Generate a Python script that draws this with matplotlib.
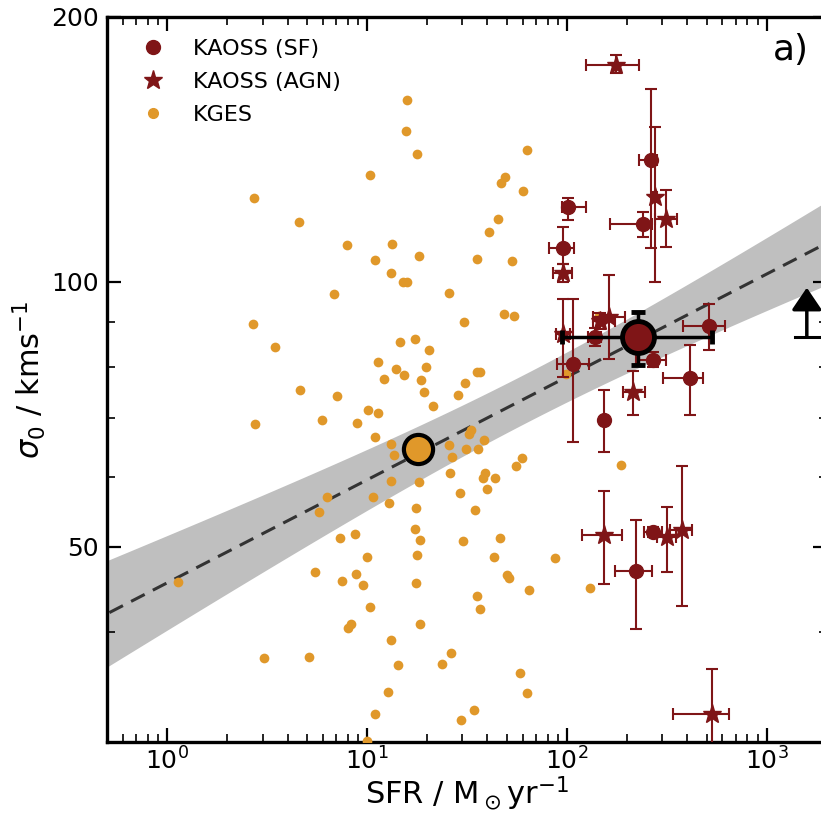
import numpy as np
import matplotlib

matplotlib.use("Agg")
import matplotlib.pyplot as plt
from matplotlib.lines import Line2D
from matplotlib.ticker import FixedLocator, FixedFormatter, NullFormatter

KGES_COLOR = "#e0982a"
KAOSS_COLOR = "#7f1517"

# KGES sample (SFR in Msun/yr, sigma_0 in km/s)
kges_sfr = [1.135, 2.72, 2.69, 2.75, 3.05, 3.47, 4.57, 4.62, 5.13, 5.50,
            5.75, 5.96, 6.31, 6.84, 7.08, 7.33, 7.50, 7.94, 8.04, 8.32,
            8.71, 8.81, 8.91, 9.55, 10.0, 10.0, 10.1, 10.35, 10.35, 10.7,
            10.96, 10.96, 10.96, 11.35, 11.35, 12.16, 12.7, 12.9, 13.2, 13.2,
            13.2, 13.2, 13.3, 13.6, 14.0, 14.3, 14.6, 15.1, 15.8, 15.3,
            15.7, 15.8, 17.4, 17.4, 17.6, 17.6, 17.8, 17.8, 18.2, 18.2,
            18.4, 18.4, 18.6, 19.3, 19.7, 20.4, 21.4, 23.7, 25.7, 25.7,
            26.0, 26.3, 26.6, 28.5, 29.2, 29.5, 30.2, 30.5, 30.9, 31.3,
            32.4, 33.1, 34.3, 34.7, 35.5, 35.5, 35.5, 35.9, 36.7, 36.7,
            38.0, 38.5, 38.9, 39.8, 40.7, 43.2, 43.7, 45.2, 46.2, 46.8,
            48.4, 49.0, 50.1, 51.3, 53.1, 54.3, 55.6, 58.2, 59.6, 60.3,
            63.1, 63.1, 64.6, 87.1, 98.9, 130.0, 144.5, 186.0]
kges_sigma = [45.6, 124.7, 89.6, 68.9, 37.4, 84.3, 117.1, 75.3, 37.5, 46.8,
              54.7, 69.6, 56.9, 96.9, 74.1, 51.2, 45.7, 110.2, 40.4, 40.9,
              51.7, 46.6, 69.1, 45.2, 48.7, 30.1, 71.5, 132.4, 42.7, 57.0,
              105.9, 66.7, 32.3, 81.1, 70.9, 77.5, 34.2, 56.1, 102.4, 65.5,
              59.4, 39.2, 110.5, 63.5, 79.6, 36.7, 85.4, 100.0, 100.0, 78.3,
              148.3, 160.9, 86.1, 52.4, 55.4, 45.5, 139.9, 49.0, 107.1, 59.2,
              50.9, 40.8, 77.3, 74.9, 80.0, 83.6, 72.2, 36.8, 97.2, 65.2,
              60.6, 37.9, 63.2, 74.3, 57.6, 31.8, 50.8, 90.0, 76.7, 64.5,
              67.1, 67.8, 32.6, 55.1, 106.2, 79.0, 44.0, 64.5, 79.0, 42.5,
              59.8, 66.2, 60.7, 58.2, 114.0, 48.7, 59.9, 118.0, 51.1, 129.7,
              91.9, 131.7, 46.5, 46.1, 105.7, 91.5, 61.7, 35.9, 63.0, 127.0,
              141.4, 34.1, 44.7, 48.6, 78.5, 44.9, 91.5, 62.0]

# KAOSS star-forming galaxies: value, lower bound, upper bound
sf_sfr = [263, 240, 101, 95.5, 138, 107, 269, 513, 412, 153, 221, 269]
sf_sfr_lo = [229, 164, 94, 81, 128, 89, 221, 380, 302, 150, 174, 243]
sf_sfr_hi = [282, 266, 124, 108, 148, 129, 313, 617, 479, 156, 266, 298]
sf_sigma = [137.4, 116.5, 121.8, 109.3, 86.6, 80.6, 81.5, 89.1, 77.7, 69.6, 46.9, 52.0]
sf_sigma_lo = [109.3, 112.5, 117.7, 104.8, 84.5, 65.7, 80.0, 83.6, 70.5, 64.1, 40.3, 51.3]
sf_sigma_hi = [165.6, 120.2, 124.7, 115.5, 88.7, 95.6, 83.2, 94.4, 84.7, 75.3, 53.7, 52.6]

# KAOSS AGN
agn_sfr = [176, 275, 313, 95.5, 162, 146, 95.5, 214, 153, 316, 376, 532]
agn_sfr_lo = [124, 268, 275, 85, 135, 135, 88, 191, 119, 282, 327, 339]
agn_sfr_hi = [229, 283, 355, 106, 195, 174, 104, 245, 188, 351, 422, 646]
agn_sigma = [176.3, 125.0, 118.0, 102.4, 91.2, 90.3, 87.3, 74.9, 51.6, 51.3, 52.3, 32.3]
agn_sigma_lo = [172.8, 100.0, 109.6, 100.0, 81.7, 88.4, 77.9, 70.5, 45.4, 46.8, 42.8, 28.0]
agn_sigma_hi = [181.0, 149.8, 127.3, 104.8, 101.8, 92.2, 95.6, 79.1, 57.8, 55.5, 61.7, 36.3]

# sample medians
kges_med_sfr, kges_med_sigma = 18.0, 64.5
kaoss_med_sfr, kaoss_med_sfr_lo, kaoss_med_sfr_hi = 226, 94.4, 532
kaoss_med_sigma, kaoss_med_sigma_lo, kaoss_med_sigma_hi = 86.6, 80.4, 92.4

# power-law fit sigma = norm * SFR**slope, with confidence band (dex)
fit_norm, fit_slope = 45.5, 0.117
band_pivot, band_min, band_growth = 1.8, 0.028, 0.0255

# arrow marker on the right edge
arrow_sfr, arrow_sfr_lo, arrow_sfr_hi = 1585, 1380, 1840
arrow_sigma_base, arrow_sigma_tip = 86.6, 98.5


def asym_err(val, lo, hi):
    val = np.asarray(val, dtype=float)
    return np.vstack([val - np.asarray(lo), np.asarray(hi) - val])


def main() -> None:
    fig = plt.figure(figsize=(8.21, 8.15), dpi=100)
    ax = fig.add_axes([107 / 821, 73 / 815, 720 / 821, 725 / 815])
    ax.set_xscale("log")
    ax.set_yscale("log")
    ax.set_xlim(0.5, 2000)
    ax.set_ylim(30, 200)

    # fit and band
    logx = np.linspace(np.log10(0.4), np.log10(3000), 200)
    xx = 10 ** logx
    yy = fit_norm * xx ** fit_slope
    hw = np.sqrt(band_min ** 2 + (band_growth * (logx - band_pivot)) ** 2)
    ax.fill_between(xx, yy * 10 ** (-hw), yy * 10 ** hw, color="#bfbfbf", lw=0, zorder=1)
    ax.plot(xx, yy, ls=(0, (5, 3)), color="#333333", lw=2.2, zorder=2)

    ax.plot(kges_sfr, kges_sigma, "o", color=KGES_COLOR, ms=7, mew=0, zorder=3)

    ekw = dict(ls="none", color=KAOSS_COLOR, ecolor=KAOSS_COLOR, elinewidth=1.5,
               capsize=4.5, capthick=1.5, zorder=4)
    ax.errorbar(sf_sfr, sf_sigma, xerr=asym_err(sf_sfr, sf_sfr_lo, sf_sfr_hi),
                yerr=asym_err(sf_sigma, sf_sigma_lo, sf_sigma_hi), marker="o", ms=10, **ekw)
    ax.errorbar(agn_sfr, agn_sigma, xerr=asym_err(agn_sfr, agn_sfr_lo, agn_sfr_hi),
                yerr=asym_err(agn_sigma, agn_sigma_lo, agn_sigma_hi), marker="*", ms=14, **ekw)

    ax.plot([kges_med_sfr], [kges_med_sigma], "o", ms=21, mfc=KGES_COLOR, mec="k", mew=3, zorder=6)
    ax.errorbar([kaoss_med_sfr], [kaoss_med_sigma],
                xerr=asym_err([kaoss_med_sfr], [kaoss_med_sfr_lo], [kaoss_med_sfr_hi]),
                yerr=asym_err([kaoss_med_sigma], [kaoss_med_sigma_lo], [kaoss_med_sigma_hi]),
                fmt="o", ms=23, mfc=KAOSS_COLOR, mec="k", mew=3.5, ecolor="k",
                elinewidth=2.5, capsize=5, capthick=5, zorder=7)

    ax.plot([arrow_sfr_lo, arrow_sfr_hi], [arrow_sigma_base, arrow_sigma_base], color="k", lw=2.2, zorder=5)
    ax.annotate("", xy=(arrow_sfr, arrow_sigma_tip), xytext=(arrow_sfr, arrow_sigma_base),
                arrowprops=dict(arrowstyle="-|>,head_width=0.42,head_length=0.62", color="k",
                                lw=2.5, mutation_scale=22, shrinkA=0, shrinkB=0), zorder=5)

    # axes styling
    for sp in ax.spines.values():
        sp.set_linewidth(2.4)
    ax.yaxis.set_major_locator(FixedLocator([50, 100, 200]))
    ax.yaxis.set_minor_locator(FixedLocator([40, 60, 70, 80, 90]))
    ax.yaxis.set_major_formatter(FixedFormatter(["50", "100", "200"]))
    ax.yaxis.set_minor_formatter(NullFormatter())
    ax.tick_params(which="both", direction="in", top=True, right=True, labelsize=18, pad=6)
    ax.tick_params(axis="x", which="both", pad=4)
    ax.tick_params(which="major", length=10, width=1.6)
    ax.tick_params(which="minor", length=6, width=1.2)

    ax.set_xlabel(r"SFR / M$_\odot$yr$^{-1}$", fontsize=22, labelpad=0)
    ax.set_ylabel(r"$\sigma_0$ / kms$^{-1}$", fontsize=22, labelpad=2)
    ax.text(0.925, 0.954, "a)", transform=ax.transAxes, fontsize=26, ha="left", va="center")

    handles = [
        Line2D([], [], ls="none", marker="o", ms=10, color=KAOSS_COLOR),
        Line2D([], [], ls="none", marker="*", ms=14, color=KAOSS_COLOR),
        Line2D([], [], ls="none", marker="o", ms=7, color=KGES_COLOR),
    ]
    ax.legend(handles, ["KAOSS (SF)", "KAOSS (AGN)", "KGES"], loc="upper left",
              bbox_to_anchor=(0.005, 0.997), frameon=False, fontsize=16,
              labelspacing=0.58, handletextpad=0.8)

    fig.savefig("out.png", dpi=100)
    plt.close(fig)


if __name__ == "__main__":
    main()
